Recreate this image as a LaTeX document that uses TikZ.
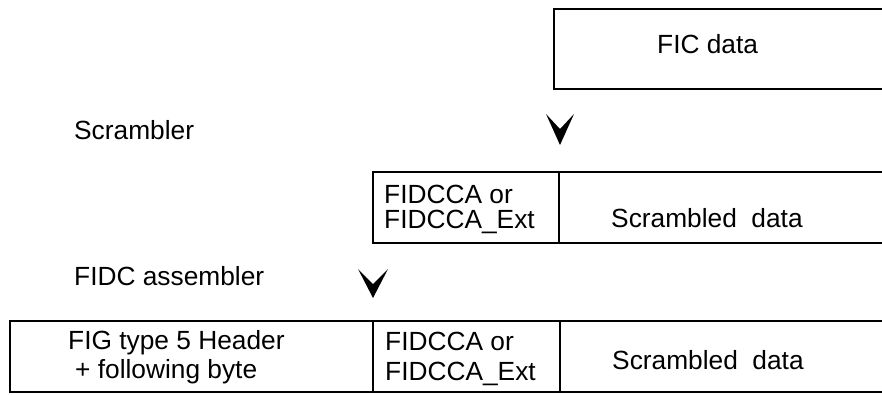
\documentclass[tikz,border=0pt]{standalone}
\usepackage{fontspec}
\setmainfont{Liberation Sans}
\begin{document}
\begin{tikzpicture}[x=1pt,y=-1pt,
  frame/.style={line width=1.8pt,line join=miter},
  lbl/.style={anchor=base west,inner sep=0pt,font=\fontsize{26.3}{29}\selectfont},
  chev/.style={fill=black}]
\useasboundingbox (0,0) rectangle (882,394);
% top box (open right)
\draw[frame] (882,9) -- (554,9) -- (554,89) -- (882,89);
\node[lbl] (fic) at (657,53) {FIC data};
\node[lbl] (scr) at (74,139) {Scrambler};
% arrow head 1
\coordinate (a1) at (560,145);
\fill[chev] (a1) -- ++(-14,-31) -- ++(14,15) -- ++(14,-15) -- cycle;
% middle box
\draw[frame] (882,172) -- (373,172) -- (373,243) -- (882,243);
\draw[frame] (559,172) -- (559,243);
\node[lbl] (m1) at (384,203) {FIDCCA or};
\node[lbl] (m2) at (384,228) {FIDCCA\_Ext};
\node[lbl] (m3) at (611,227) {Scrambled\ \ data};
\node[lbl] (asm) at (74,285) {FIDC assembler};
% arrow head 2
\coordinate (a2) at (373,298);
\fill[chev] (a2) -- ++(-15,-29) -- ++(15,15) -- ++(15,-15) -- cycle;
% bottom box
\draw[frame] (882,321) -- (10,321) -- (10,392) -- (882,392);
\draw[frame] (373,321) -- (373,392);
\draw[frame] (560,321) -- (560,392);
\node[lbl] (b1) at (68,349) {FIG type 5 Header};
\node[lbl] (b2) at (75,378) {+ following byte};
\node[lbl] (b3) at (385,350) {FIDCCA or};
\node[lbl] (b4) at (385,380) {FIDCCA\_Ext};
\node[lbl] (b5) at (612,369) {Scrambled\ \ data};
\end{tikzpicture}
\end{document}
